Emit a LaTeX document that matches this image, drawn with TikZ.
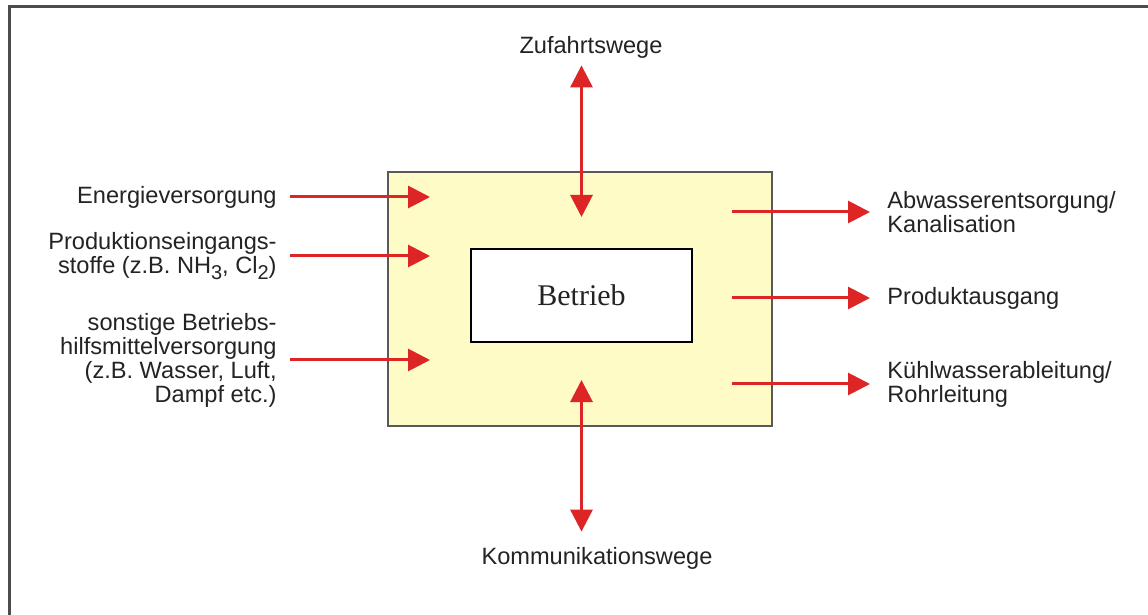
\documentclass[tikz,border=0pt]{standalone}
\usepackage{fontspec}
\setsansfont{Liberation Sans}
\newfontfamily\betriebsschrift{Liberation Serif}
\usetikzlibrary{arrows.meta, positioning}
\definecolor{pfeilrot}{RGB}{222,37,37}
\definecolor{hellgelb}{RGB}{255,251,198}
\definecolor{schrift}{RGB}{35,35,35}
\newcommand{\tiefgestellt}[1]{\raisebox{-0.45ex}{\fontsize{10}{12}\selectfont #1}}
\tikzset{
  pfeil/.style={draw=pfeilrot, line width=1.5pt, -{Triangle[length=11pt,width=11pt]}},
  doppelpfeil/.style={draw=pfeilrot, line width=1.5pt, {Triangle[length=11pt,width=11pt]}-{Triangle[length=11pt,width=11pt]}},
  beschriftung/.style={font=\sffamily\fontsize{11.8}{12}\selectfont, text=schrift, inner sep=0pt},
  links/.style={beschriftung, anchor=east, align=right, inner xsep=6.5pt},
  rechts/.style={beschriftung, anchor=west, align=left, inner xsep=8.5pt},
}

\begin{document}
\begin{tikzpicture}[x=0.5pt, y=-0.5pt]
    \useasboundingbox (0,0) rectangle (1148,615);
    % Rahmen
    \draw[line width=1.5pt, draw=gray!60!black] (9,615) -- (9,7) -- (1148,7);

    % Betriebsgelaende und Betrieb
    \node[draw=gray!70!black, fill=hellgelb, line width=0.8pt, minimum width=192pt, minimum height=127pt] (gelaende) at (580,299) {};
    \node[draw=black, fill=white, line width=0.8pt, minimum width=110.5pt, minimum height=46.5pt, font=\betriebsschrift\fontsize{15}{17}\selectfont, text=schrift] (betrieb) at (581.5,295.5) {Betrieb};

    % Eingaenge
    \node[links] (energie) at (290,197) {Energieversorgung};
    \node[links] (eingang) at (290,256) {Produktionseingangs-\\stoffe (z.B. NH\tiefgestellt{3}, Cl\tiefgestellt{2})};
    \node[links] (hilfsmittel) at (290,360) {sonstige Betriebs-\\hilfsmittelversorgung\\(z.B. Wasser, Luft,\\Dampf etc.)};
    \coordinate (ein1) at (430,197);
    \coordinate (ein2) at (430,256);
    \coordinate (ein3) at (430,360);
    \draw[pfeil] (energie.east) -- (ein1);
    \draw[pfeil] (eingang.east) -- (ein2);
    \draw[pfeil] (hilfsmittel.east) -- (ein3);

    % Ausgaenge
    \node[rechts] (abwasser) at (870,212) {Abwasserentsorgung/\\Kanalisation};
    \node[rechts] (produkt) at (870,298) {Produktausgang};
    \node[rechts] (kuehlwasser) at (870,384) {Kühlwasserableitung/\\Rohrleitung};
    \coordinate (aus1) at (732,212);
    \coordinate (aus2) at (732,298);
    \coordinate (aus3) at (732,384);
    \draw[pfeil] (aus1) -- (abwasser.west);
    \draw[pfeil] (aus2) -- (produkt.west);
    \draw[pfeil] (aus3) -- (kuehlwasser.west);

    % Wege
    \node[beschriftung, inner ysep=3.5pt] (zufahrt) at (591,47) {Zufahrtswege};
    \node[beschriftung, inner ysep=7.5pt] (kommunikation) at (597,558) {Kommunikationswege};
    \coordinate (weg1) at (581.5,217);
    \coordinate (weg2) at (581.5,380);
    \draw[doppelpfeil] (zufahrt.south -| betrieb) -- (weg1);
    \draw[doppelpfeil] (weg2) -- (kommunikation.north -| betrieb);
\end{tikzpicture}
\end{document}
